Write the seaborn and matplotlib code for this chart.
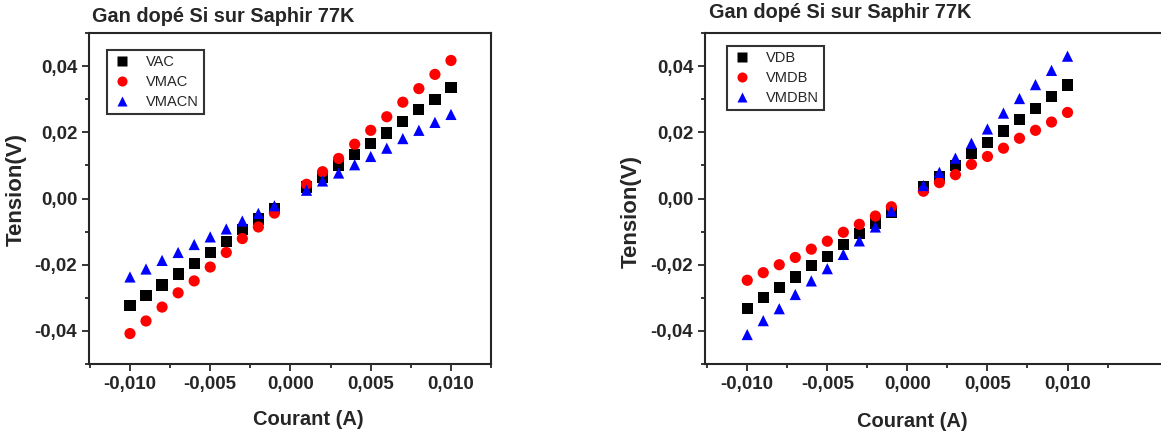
import pandas as pd
import matplotlib.pyplot as plt
import seaborn as sns
from matplotlib.ticker import FixedLocator, FuncFormatter

# courant (A), sans le point 0
courant = [-0.010, -0.009, -0.008, -0.007, -0.006, -0.005, -0.004, -0.003, -0.002, -0.001,
           0.001, 0.002, 0.003, 0.004, 0.005, 0.006, 0.007, 0.008, 0.009, 0.010]

# graphe de gauche
vac = [-0.0323, -0.0293, -0.0261, -0.0228, -0.0197, -0.0163, -0.0130, -0.0094, -0.0062, -0.0031,
       0.0035, 0.0065, 0.0101, 0.0133, 0.0166, 0.0198, 0.0233, 0.0268, 0.0300, 0.0336]
vmac = [-0.0408, -0.0370, -0.0328, -0.0285, -0.0249, -0.0207, -0.0163, -0.0121, -0.0086, -0.0044,
        0.0043, 0.0081, 0.0121, 0.0164, 0.0206, 0.0247, 0.0291, 0.0332, 0.0375, 0.0417]
vmacn = [-0.0237, -0.0213, -0.0187, -0.0163, -0.0139, -0.0116, -0.0092, -0.0068, -0.0045, -0.0022,
         0.0025, 0.0053, 0.0077, 0.0102, 0.0127, 0.0152, 0.0181, 0.0206, 0.0230, 0.0254]

# graphe de droite
vdb = [-0.0333, -0.0299, -0.0269, -0.0237, -0.0203, -0.0174, -0.0139, -0.0106, -0.0074, -0.0041,
       0.0035, 0.0067, 0.0100, 0.0136, 0.0168, 0.0204, 0.0238, 0.0272, 0.0307, 0.0343]
vmdb = [-0.0247, -0.0224, -0.0200, -0.0178, -0.0153, -0.0129, -0.0102, -0.0078, -0.0053, -0.0025,
        0.0022, 0.0048, 0.0072, 0.0103, 0.0127, 0.0152, 0.0182, 0.0206, 0.0231, 0.0260]
vmdbn = [-0.0411, -0.0369, -0.0333, -0.0290, -0.0249, -0.0212, -0.0169, -0.0128, -0.0086, -0.0038,
         0.0039, 0.0079, 0.0122, 0.0167, 0.0210, 0.0258, 0.0302, 0.0344, 0.0387, 0.0430]

labels_gauche = ['VAC', 'VMAC', 'VMACN']
labels_droite = ['VDB', 'VMDB', 'VMDBN']
titre = 'Gan dopé Si sur Saphir 77K'


def long_df(labels, series):
    rows = []
    for lab, vals in zip(labels, series):
        for x, y in zip(courant, vals):
            rows.append({'Courant': x, 'Tension': y, 'serie': lab})
    return pd.DataFrame(rows)


sns.set_style('ticks')
plt.rcParams['font.family'] = ['Liberation Sans', 'DejaVu Sans']

fig = plt.figure(figsize=(11.61, 4.36), dpi=100)
ax1 = fig.add_axes([0.0767, 0.1651, 0.3463, 0.7592])
ax2 = fig.add_axes([0.6072, 0.1651, 0.4014, 0.7592])


def draw(ax, labels, series, xlim, ylab_pos, xlab_pos, leg_pos):
    df = long_df(labels, series)
    sns.scatterplot(data=df, x='Courant', y='Tension', hue='serie', style='serie',
                    palette=['black', 'red', 'blue'], markers=['s', 'o', '^'],
                    s=65, edgecolor='none', ax=ax)
    ax.set_xlim(*xlim)
    ax.set_ylim(-0.05, 0.05)
    ax.xaxis.set_major_locator(FixedLocator([-0.010, -0.005, 0.0, 0.005, 0.010]))
    ax.xaxis.set_minor_locator(FixedLocator([-0.0125, -0.0075, -0.0025, 0.0025, 0.0075, 0.0125]))
    ax.yaxis.set_major_locator(FixedLocator([-0.04, -0.02, 0.0, 0.02, 0.04]))
    ax.yaxis.set_minor_locator(FixedLocator([-0.05, -0.03, -0.01, 0.01, 0.03, 0.05]))
    ax.xaxis.set_major_formatter(FuncFormatter(lambda v, p: f'{v:.3f}'.replace('.', ',').replace('-0,000', '0,000')))
    ax.yaxis.set_major_formatter(FuncFormatter(lambda v, p: f'{v:.2f}'.replace('.', ',').replace('-0,00', '0,00')))
    ax.tick_params(which='major', direction='out', length=5, width=1.3, labelsize=13.5)
    ax.tick_params(which='minor', direction='out', length=3, width=1.3)
    for t in ax.get_xticklabels() + ax.get_yticklabels():
        t.set_fontweight('bold')
    for sp in ax.spines.values():
        sp.set_linewidth(1.5)
    ax.set_xlabel('Courant (A)', fontsize=14.5, fontweight='bold')
    ax.set_ylabel('Tension(V)', fontsize=16, fontweight='bold')
    ax.yaxis.set_label_coords(*ylab_pos)
    ax.xaxis.set_label_coords(*xlab_pos)
    handles, labs = ax.get_legend_handles_labels()
    leg = ax.legend(handles, labs, loc='upper left', bbox_to_anchor=leg_pos,
                    fontsize=10.5, frameon=True, fancybox=False, edgecolor='black',
                    handletextpad=0.9, labelspacing=0.4, borderpad=0.35, handlelength=1.4,
                    borderaxespad=0, markerscale=0.9)
    leg.get_frame().set_linewidth(1.5)


draw(ax1, labels_gauche, [vac, vmac, vmacn], (-0.01255, 0.0125),
     (-0.154, 0.526), (0.545, -0.139), (0.045, 0.949))
draw(ax2, labels_droite, [vdb, vmdb, vmdbn], (-0.01264, 0.01646),
     (-0.135, 0.462), (0.444, -0.145), (0.047, 0.961))

fig.text(92 / 1161, 1 - 17 / 436, titre, fontsize=14.3, fontweight='bold', va='center', ha='left')
fig.text(709 / 1161, 1 - 12 / 436, titre, fontsize=14.3, fontweight='bold', va='center', ha='left')

plt.savefig('out.png', dpi=100)
